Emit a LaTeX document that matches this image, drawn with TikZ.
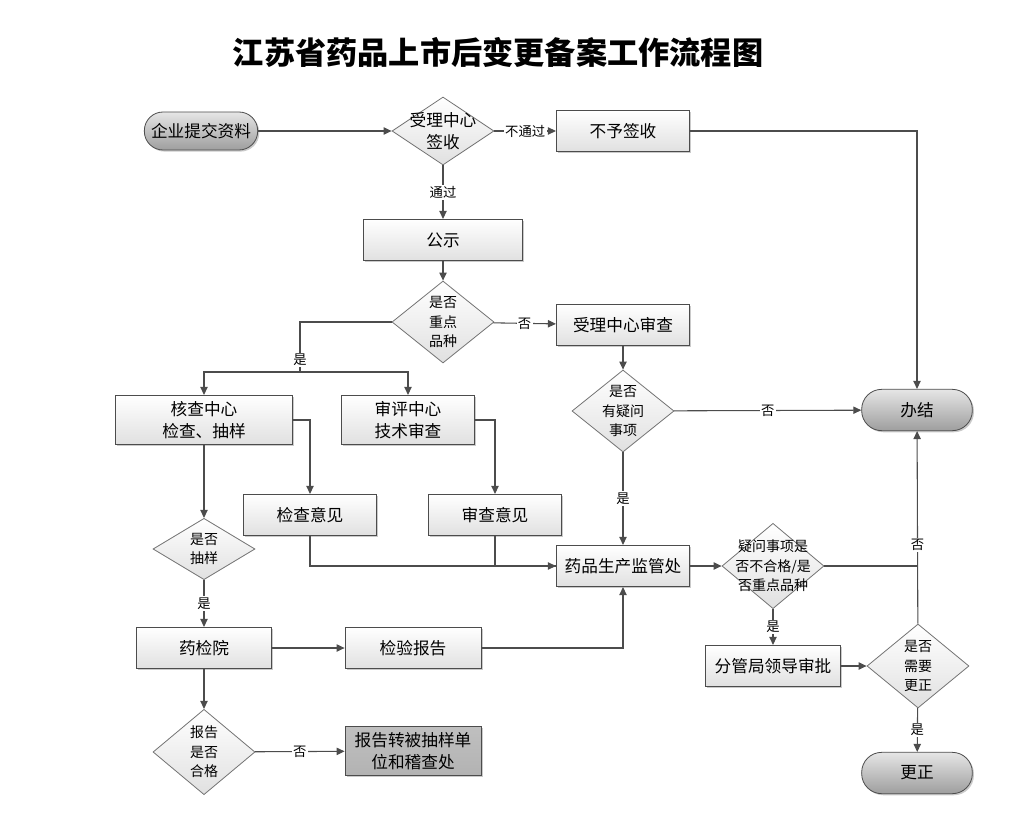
\documentclass[tikz,border=0pt]{standalone}
\usepackage{fontspec}
\setmainfont{Noto Sans CJK SC}
\usepackage{tikz}
\usetikzlibrary{shapes.geometric,arrows.meta,shadows}

\begin{document}
\begin{tikzpicture}[x=0.75pt,y=-0.75pt,
ln/.style={draw=black!70,line width=0.8pt},
arr/.style={ln,-{Triangle[length=6pt,width=5.5pt]}},
box/.style={rectangle,draw=black!70,line width=0.6pt,top color=white,bottom color=black!12,minimum width=100pt,minimum height=31pt,inner sep=1pt,align=center,font=\fontsize{12.5}{16}\selectfont,drop shadow={shadow xshift=1.2pt,shadow yshift=-1.2pt,fill=black!35,opacity=.6}},
term/.style={box,rounded corners=15pt,top color=black!10,bottom color=black!38,minimum width=83pt},
dia/.style={diamond,draw=black!55,line width=0.6pt,top color=white,bottom color=black!12,inner sep=0pt,minimum width=76.5pt,minimum height=61.5pt},
dt/.style={align=center,inner sep=0pt,font=\fontsize{10.5}{14.5}\selectfont},
lab/.style={fill=white,inner sep=1pt,font=\fontsize{10}{12}\selectfont}]
\useasboundingbox (0,0) rectangle (1013,827);
\node[font=\bfseries\fontsize{23.4}{28}\selectfont] (title) at (498,52) {江苏省药品上市后变更备案工作流程图};
% terminals
\node[term,minimum width=85pt,minimum height=28.5pt,rounded corners=14pt] (start) at (201,131) {企业提交资料};
\node[term] (end) at (917,410) {办结};
\node[term] (gz) at (917,773) {更正};
% boxes
\foreach \n/\x/\y/\w/\h/\t in {%
nosign/623/131/100/31/不予签收, gs/443/240/119/31/公示,
check/623/325/100/31/受理中心审查, hc/204/420/133/37/{核查中心\\检查、抽样},
pj/408/420/100/37/{审评中心\\技术审查}, jcyj/310/515/100/31/检查意见,
scyj/495/515/100/31/审查意见, jg/623/566/100/31/药品生产监管处,
yjy/204/648/101/31/药检院, jybg/413/648/102/31/检验报告,
fg/773/666/101/31/分管局领导审批} {
   \node[box,minimum width=\w pt,minimum height=\h pt] (\n) at (\x,\y) {\t};
}
\node[box,minimum width=102pt,minimum height=37pt,top color=black!25,bottom color=black!30] (zb) at (413,751) {报告转被抽样单\\位和稽查处};
% decisions
\node[dia,minimum height=51pt,label={[dt,font=\fontsize{12.5}{16}\selectfont]center:{受理中心\\签收}}] (d1) at (443,131) {};
\foreach \n/\x/\y/\h/\t in {%
d2/443/322/61.5/{是否\\重点\\品种}, d3/623/411/61.5/{是否\\有疑问\\事项},
d4/204/549/46/{是否\\抽样}, d6/918/666/63/{是否\\需要\\更正},
d7/204/752/64/{报告\\是否\\合格}} {
   \node[dia,minimum height=\h pt,label={[dt]center:{\t}}] (\n) at (\x,\y) {};
}
\node[dia,minimum height=64pt,label={[dt]center:{疑问事项是\\否不合格/是\\否重点品种}}] (d5) at (773,566) {};
\coordinate (br) at (300,372);
% connectors
\draw[arr] (start) -- (d1);
\draw[arr] (d1) -- node[lab]{不通过} (nosign);
\draw[arr] (nosign.east) -| (end);
\draw[arr] (d1) -- node[lab]{通过} (gs);
\draw[arr] (gs) -- (d2);
\draw[arr] (d2) -- node[lab]{否} (check);
\draw[ln] (d2.west) -| node[lab,pos=0.88]{是} (br);
\draw[arr] (br) -| (hc);
\draw[arr] (br) -| (pj);
\draw[arr] (check) -- (d3);
\draw[arr] (d3) -- node[lab]{否} (end);
\draw[arr] (d3) -- node[lab]{是} (jg);
\draw[arr] (hc.east) -| (jcyj);
\draw[arr] (pj.east) -| (scyj);
\draw[arr] (jcyj.south) |- (jg);
\draw[ln] (scyj.south) |- (jg.west);
\draw[arr] (hc) -- (d4);
\draw[arr] (d4) -- node[lab]{是} (yjy);
\draw[arr] (yjy) -- (jybg);
\draw[arr] (jybg.east) -| (jg);
\draw[arr] (yjy) -- (d7);
\draw[arr] (d7) -- node[lab]{否} (zb);
\draw[arr] (jg) -- (d5);
\draw[ln] (d5.east) -- (d5.east -| end);
\draw[arr] (d6) -- node[lab,pos=0.41]{否} (end);
\draw[arr] (d5) -- node[lab]{是} (fg);
\draw[arr] (fg) -- (d6);
\draw[arr] (d6) -- node[lab]{是} (gz);
\end{tikzpicture}
\end{document}
